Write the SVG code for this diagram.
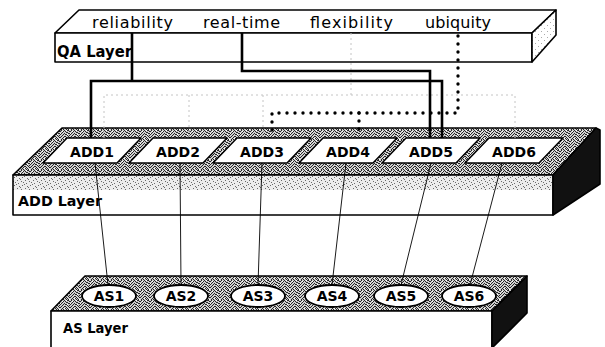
<svg xmlns="http://www.w3.org/2000/svg" width="605" height="347" viewBox="0 0 605 347">
<defs>
  <pattern id="tex" width="10" height="10" patternUnits="userSpaceOnUse">
    <rect width="10" height="10" fill="#cfcfcf"/>
    <path fill="#262626" d="M1 0h1v1h-1zM4 0h1v1h-1zM7 0h2v1h-2zM0 1h1v1h-1zM3 1h1v1h-1zM5 1h1v1h-1zM9 1h1v1h-1zM2 2h1v1h-1zM6 2h2v1h-2zM1 3h1v1h-1zM4 3h1v1h-1zM8 3h2v1h-2zM0 4h1v1h-1zM3 4h1v1h-1zM5 4h2v1h-2zM2 5h1v1h-1zM7 5h1v1h-1zM9 5h1v1h-1zM1 6h1v1h-1zM4 6h2v1h-2zM8 6h1v1h-1zM0 7h1v1h-1zM3 7h1v1h-1zM6 7h1v1h-1zM9 7h1v1h-1zM2 8h1v1h-1zM5 8h1v1h-1zM7 8h1v1h-1zM1 9h1v1h-1zM3 9h1v1h-1zM6 9h1v1h-1zM8 9h1v1h-1z"/>
    <path fill="#fff" d="M6 0h1v1h-1zM0 3h1v1h-1zM7 4h1v1h-1zM4 8h1v1h-1zM9 9h1v1h-1zM2 1h1v1h-1z"/>
  </pattern>
  <pattern id="texLight" width="8" height="8" patternUnits="userSpaceOnUse">
    <rect width="8" height="8" fill="#ececec"/>
    <path fill="#6a6a6a" d="M0 0h1v1h-1zM3 2h1v1h-1zM6 1h1v1h-1zM1 4h1v1h-1zM5 5h1v1h-1zM7 6h1v1h-1zM2 7h1v1h-1zM4 3h1v1h-1z"/>
  </pattern>
  <pattern id="dots" width="6" height="6" patternUnits="userSpaceOnUse">
    <rect width="6" height="6" fill="#fff"/>
    <path d="M1 1h1v1H1zM4 4h1v1H4z" fill="#aaa"/>
  </pattern>
</defs>
<style>
  .edge{stroke:#000;stroke-width:1.6;stroke-linejoin:round}
  .qa{font-family:"DejaVu Sans",sans-serif;font-size:16px;fill:#000}
  .lbl{font-family:"DejaVu Sans",sans-serif;font-weight:bold;fill:#000}
  .node{font-size:14px;text-anchor:middle}
  .para{fill:#fff;stroke:#000;stroke-width:1.5;stroke-linejoin:round}
  .ell{fill:#fff;stroke:#000;stroke-width:1.8}
  .thick{fill:none;stroke:#000;stroke-width:2.6}
  .dot{fill:none;stroke:#000;stroke-width:3.4;stroke-linecap:round;stroke-dasharray:0 8}
  .faint{fill:none;stroke:#c4c4c4;stroke-width:1;stroke-dasharray:2 3}
  .thin{fill:none;stroke:#000;stroke-width:0.9}
</style>

<!-- QA Layer slab -->
<g id="qa-layer">
  <polygon points="79,10 556,10 532,33 55,33" fill="#fff" class="edge"/>
  <rect x="55" y="33" width="477" height="29" fill="#fff" class="edge"/>
  <polygon points="532,33 556,10 556,35 532,62" fill="url(#dots)" class="edge"/>
  <text class="lbl" x="57" y="57" font-size="15" textLength="75" lengthAdjust="spacingAndGlyphs">QA Layer</text>
</g>
<g id="qa-reliability"><text class="qa" x="92" y="28" textLength="81">reliability</text></g>
<g id="qa-realtime"><text class="qa" x="203" y="28" textLength="77">real-time</text></g>
<g id="qa-flexibility"><text class="qa" x="310" y="28" textLength="83">flexibility</text></g>
<g id="qa-ubiquity"><text class="qa" x="425" y="28" textLength="66">ubiquity</text></g>

<!-- ADD Layer slab -->
<g id="add-layer">
  <polygon points="62,128 596,128 553,175 13,175" fill="url(#tex)" class="edge"/>
  <rect x="13" y="175" width="540" height="40" fill="#fff"/>
  <rect x="13" y="175" width="540" height="15" fill="url(#texLight)"/>
  <rect x="13" y="175" width="540" height="40" fill="none" class="edge"/>
  <polygon points="553,175 596,128 600,130 600,184 553,215" fill="#111" class="edge"/>
  <text class="lbl" x="18" y="206" font-size="14.5" textLength="84" lengthAdjust="spacingAndGlyphs">ADD Layer</text>
</g>
<g id="ADD1"><polygon class="para" points="67,138 141,138 117,163 43,163"/><text class="lbl node" x="92" y="157">ADD1</text></g>
<g id="ADD2"><polygon class="para" points="153,138 227,138 203,163 129,163"/><text class="lbl node" x="178" y="157">ADD2</text></g>
<g id="ADD3"><polygon class="para" points="237,138 311,138 287,163 213,163"/><text class="lbl node" x="262" y="157">ADD3</text></g>
<g id="ADD4"><polygon class="para" points="323,138 397,138 373,163 299,163"/><text class="lbl node" x="348" y="157">ADD4</text></g>
<g id="ADD5"><polygon class="para" points="406,138 480,138 456,163 382,163"/><text class="lbl node" x="431" y="157">ADD5</text></g>
<g id="ADD6"><polygon class="para" points="489,138 563,138 539,163 465,163"/><text class="lbl node" x="514" y="157">ADD6</text></g>

<!-- AS Layer slab -->
<g id="as-layer">
  <polygon points="85,276 527,276 492,311 51,311" fill="url(#tex)" class="edge"/>
  <rect x="51" y="311" width="441" height="40" fill="#fff" class="edge"/>
  <polygon points="492,311 527,276 527,313 492,348" fill="#111" class="edge"/>
  <text class="lbl" x="63" y="333" font-size="14" textLength="65" lengthAdjust="spacingAndGlyphs">AS Layer</text>
</g>
<g id="AS1"><ellipse class="ell" cx="109" cy="296" rx="27" ry="11"/><text class="lbl node" x="109" y="301" font-size="13.5">AS1</text></g>
<g id="AS2"><ellipse class="ell" cx="181" cy="296" rx="27" ry="11"/><text class="lbl node" x="181" y="301" font-size="13.5">AS2</text></g>
<g id="AS3"><ellipse class="ell" cx="258" cy="296" rx="27" ry="11"/><text class="lbl node" x="258" y="301" font-size="13.5">AS3</text></g>
<g id="AS4"><ellipse class="ell" cx="332" cy="296" rx="27" ry="11"/><text class="lbl node" x="332" y="301" font-size="13.5">AS4</text></g>
<g id="AS5"><ellipse class="ell" cx="401" cy="296" rx="27" ry="11"/><text class="lbl node" x="401" y="301" font-size="13.5">AS5</text></g>
<g id="AS6"><ellipse class="ell" cx="469" cy="296" rx="27" ry="11"/><text class="lbl node" x="469" y="301" font-size="13.5">AS6</text></g>

<!-- Connectors -->
<g id="connectors">
  <path class="faint" d="M351,33 V95 M104,138 V95 H515 V138 M189,95 V138 M263,95 V138"/>
  <path class="thick" d="M132,33 V81 M91,138 V81 H442 V138"/>
  <path class="thick" d="M242,33 V71 H430 V138"/>
  <path class="dot" d="M458,36 V113 H272 V136"/>
  <path class="dot" d="M359,113 V134"/>
  <path class="thin" d="M95,163 L108,285 M180,163 L181,285 M262,163 L258,285 M346,163 L332,285 M431,163 L401,285 M502,163 L470,285"/>
</g>
</svg>
